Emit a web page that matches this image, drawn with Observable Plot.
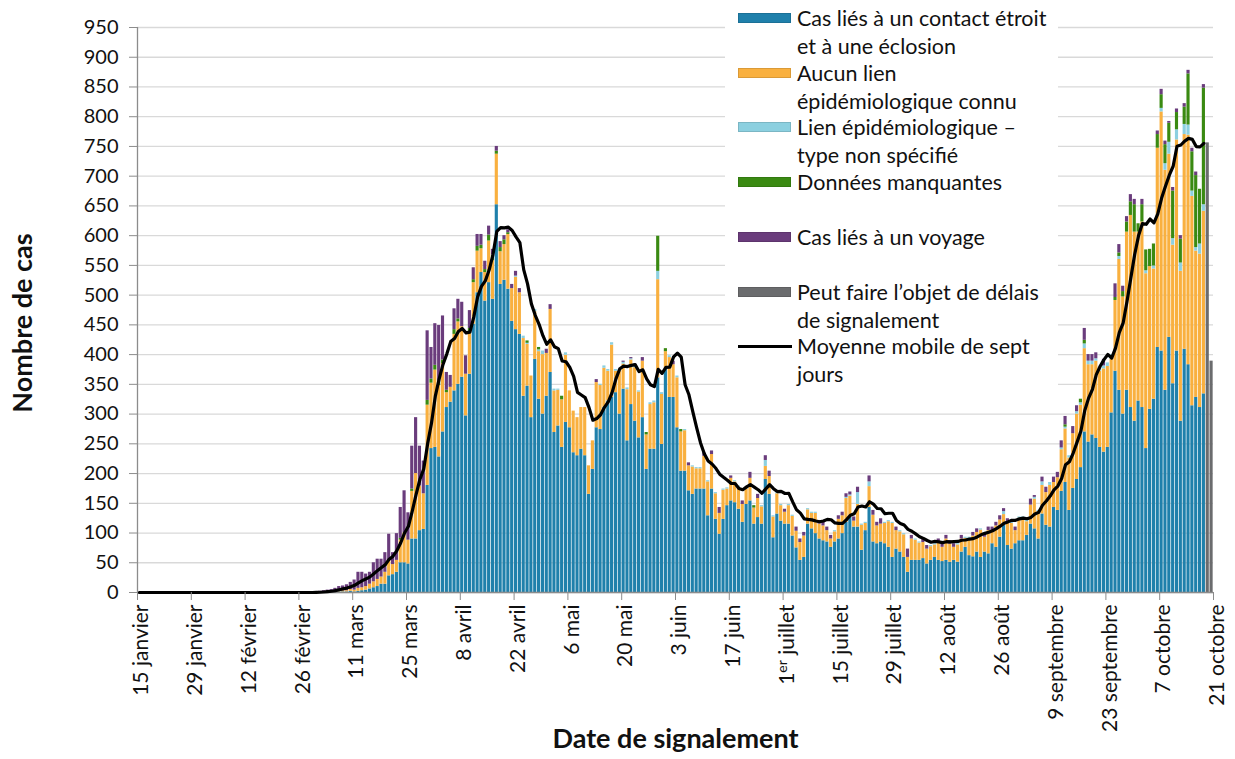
<!DOCTYPE html>
<html><head><meta charset="utf-8">
<script src="https://cdn.jsdelivr.net/npm/d3@7"></script>
<script src="https://cdn.jsdelivr.net/npm/@observablehq/plot@0.6"></script>
<style>
body{margin:0;background:#fff;}
#wrap{position:relative;width:1235px;height:759px;overflow:hidden;font-family:Lato,"Open Sans",sans-serif;}
#chart{position:absolute;left:0;top:0;}
#legend{position:absolute;left:725px;top:0;width:333px;height:392px;background:#fff;}
.lg-sw{position:absolute;left:13px;width:53px;height:10px;box-sizing:border-box;border:1px solid rgba(0,0,0,0.12);}
.lg-ln{position:absolute;left:13px;width:54px;height:3px;background:#000;}
.lg-tx{position:absolute;left:72px;font-size:21.5px;line-height:28px;color:#111;white-space:nowrap;}
</style></head>
<body><div id="wrap"><div id="chart"></div><div id="legend"></div></div>
<script>
// ---- data: daily counts from 15 January 2020 (index 0) to 20 October 2020 ----
const startDate = "2020-01-15";
const categories = [
  "Cas liés à un contact étroit et à une éclosion",
  "Aucun lien épidémiologique connu",
  "Lien épidémiologique – type non spécifié",
  "Données manquantes",
  "Cas liés à un voyage",
  "Peut faire l’objet de délais de signalement"
];
const legendLines = [
  ["Cas liés à un contact étroit", "et à une éclosion"],
  ["Aucun lien", "épidémiologique connu"],
  ["Lien épidémiologique –", "type non spécifié"],
  ["Données manquantes"],
  ["Cas liés à un voyage"],
  ["Peut faire l’objet de délais", "de signalement"],
  ["Moyenne mobile de sept", "jours"]
];
const colors = ["#1f80ab", "#f9b03f", "#8cd0e0", "#3a8a12", "#6a3c7c", "#6b6c6e"];

const contact = [
  0,0,0,0,0,0,0,0,0,0, 0,0,0,0,0,0,0,0,0,0, 0,0,0,0,0,0,0,0,0,0, 0,0,0,0,0,0,0,0,0,0,
  0,0,0,0,0,0,0,0,0,0, 0,1,1,1,1,2,1,2,3,4, 6,8,10,14,14,28,30,34,50,50,
  48,90,90,104,106,180,242,244,228,270, 311,320,339,350,362,297,367,451,504,538,
  490,521,493,652,518,525,510,456,442,434, 330,347,294,392,325,300,330,370,269,280,
  244,286,277,235,230,241,230,165,207,277, 274,311,322,328,336,300,342,255,316,288,
  260,294,207,241,241,361,249,375,328,328, 277,204,204,171,165,174,174,174,129,174,
  123,98,123,146,154,151,140,118,148,154, 115,126,115,190,165,92,132,120,115,115,
  95,75,54,59,115,107,99,90,87,85, 76,85,90,99,118,127,110,110,71,104,
  143,85,82,85,82,76,59,73,68,59, 34,54,54,54,57,48,54,59,54,52,
  54,51,54,51,68,76,62,60,68,59, 68,65,82,76,93,115,79,73,82,87,
  87,96,115,107,90,132,113,110,143,138, 170,185,138,175,190,210,270,253,265,259,
  244,236,244,302,372,340,300,340,311,288, 322,311,242,308,325,412,406,340,429,351,
  406,288,409,383,314,328,311,334,0,0
];
const noLink = [
  0,0,0,0,0,0,0,0,0,0, 0,0,0,0,0,0,0,0,0,0, 0,0,0,0,0,0,0,0,0,0, 0,0,0,0,0,0,0,0,0,0,
  0,0,0,0,0,0,0,0,1,1, 1,1,2,2,2,3,3,5,5,6, 8,10,12,12,20,25,17,20,38,50,
  40,80,110,75,60,135,110,130,120,115, 25,25,95,105,85,70,69,70,70,40,
  48,70,65,85,55,60,92,55,88,70, 97,70,70,80,80,100,72,106,70,60,
  80,113,62,70,64,70,81,48,48,76, 74,66,50,88,36,72,42,86,75,90,
  77,95,58,75,78,165,84,30,67,55, 84,66,68,42,46,34,34,55,57,58,
  43,35,49,28,38,35,37,30,26,38, 27,32,29,22,30,35,34,26,20,31,
  33,28,30,36,24,26,34,25,25,19, 14,17,33,30,40,35,10,38,42,12,
  35,45,30,30,34,43,57,31,34,38, 25,36,34,29,27,25,23,21,30,24,
  36,30,22,29,22,15,29,35,33,46, 25,39,22,36,29,16,39,43,22,38,
  38,23,32,50,46,48,55,70,42,55, 70,90,88,92,110,105,140,130,118,130,
  128,140,136,90,119,220,197,266,323,318, 284,312,294,240,219,335,402,370,308,233,
  355,252,361,386,352,246,258,307,0,0
];
const unspecified = [
  0,0,0,0,0,0,0,0,0,0, 0,0,0,0,0,0,0,0,0,0, 0,0,0,0,0,0,0,0,0,0, 0,0,0,0,0,0,0,0,0,0,
  0,0,0,0,0,0,0,0,0,0, 0,0,0,0,0,0,0,0,0,0, 0,0,0,0,0,0,0,0,0,0,
  0,0,0,0,0,0,0,0,0,0, 0,0,0,0,0,0,0,0,0,0,
  0,0,0,0,0,0,0,0,2,0, 4,2,0,4,3,6,0,0,3,2,
  0,4,0,0,0,0,0,0,0,0, 2,4,3,4,3,3,3,3,2,3,
  2,0,0,3,3,14,3,0,3,0, 3,0,2,0,2,2,2,0,2,0,
  2,0,2,2,0,2,2,0,2,0, 0,0,2,10,0,2,2,2,0,2,
  2,0,0,0,2,2,2,0,0,0, 0,2,0,0,2,2,0,20,2,2,
  8,0,0,0,2,2,2,0,2,2, 0,0,2,2,0,0,2,2,0,0,
  0,0,0,2,0,2,2,0,0,2, 0,0,0,0,0,5,0,2,0,2,
  2,2,0,3,2,6,0,5,0,0, 3,3,4,0,4,4,8,6,6,4,
  5,5,6,8,0,5,0,0,0,0, 0,0,5,0,5,0,6,11,20,11,
  17,14,17,17,9,6,17,11,0,0
];
const missing = [
  0,0,0,0,0,0,0,0,0,0, 0,0,0,0,0,0,0,0,0,0, 0,0,0,0,0,0,0,0,0,0, 0,0,0,0,0,0,0,0,0,0,
  0,0,0,0,0,0,0,0,0,0, 0,0,0,0,0,0,0,0,0,0, 0,0,0,0,0,0,0,0,3,0,
  0,4,0,0,0,8,7,8,7,6, 4,0,8,5,0,0,8,5,8,6,
  5,10,9,5,7,8,3,0,0,0, 0,4,0,0,4,0,0,0,0,0,
  6,0,0,0,0,0,0,0,0,0, 0,0,0,0,0,0,0,0,0,0,
  0,0,4,0,0,59,0,5,0,0, 0,4,0,0,0,0,0,0,0,0,
  0,0,0,0,0,0,0,0,0,0, 4,0,0,0,0,0,0,0,0,0,
  0,0,0,0,0,0,0,0,0,0, 0,0,0,0,0,0,0,0,0,0,
  0,0,0,0,0,0,0,0,0,0, 0,0,0,0,0,0,0,0,0,0,
  0,0,0,0,0,0,0,0,0,0, 0,0,0,0,0,0,0,0,0,0,
  0,0,0,0,0,0,0,0,0,0, 0,4,0,0,0,6,6,0,0,0,
  0,0,0,0,5,6,9,17,23,46, 14,29,35,29,37,23,23,32,32,80,
  29,40,29,86,66,121,92,196,0,0
];
const travel = [
  0,0,0,0,0,0,0,0,0,0, 0,0,0,0,0,0,0,0,0,0, 0,0,0,0,0,0,0,0,0,0, 0,0,0,0,0,0,0,0,0,0,
  0,0,0,0,0,0,1,2,2,3, 4,5,7,8,10,12,17,27,26,21, 20,32,34,30,33,45,20,45,52,71,
  46,72,94,67,55,117,53,70,94,74, 30,20,35,33,41,31,30,20,20,18,
  14,15,10,8,10,7,5,7,8,7, 0,0,0,0,0,0,7,8,0,0,
  0,0,0,0,0,0,0,0,0,5, 0,0,0,0,0,0,2,0,2,3,
  0,6,0,0,0,0,0,0,0,6, 0,0,0,5,0,0,0,6,0,6,
  0,10,0,0,4,0,0,6,0,10, 0,7,0,8,9,0,0,0,5,0,
  0,7,6,6,0,0,0,6,6,6, 6,0,6,6,6,5,7,9,0,0,
  10,8,6,9,0,0,0,6,0,0, 14,6,0,0,6,6,0,0,6,6,
  6,6,6,0,6,0,0,6,6,0, 6,6,6,6,7,5,6,0,6,0,
  0,0,10,3,0,8,9,0,9,9, 12,14,0,12,10,0,20,11,11,10,
  0,11,0,0,23,14,9,9,12,9, 0,9,0,0,0,6,9,6,3,6,
  6,6,6,6,6,6,0,6,0,0
];
const delayed = [
  0,0,0,0,0,0,0,0,0,0, 0,0,0,0,0,0,0,0,0,0, 0,0,0,0,0,0,0,0,0,0, 0,0,0,0,0,0,0,0,0,0,
  0,0,0,0,0,0,0,0,0,0, 0,0,0,0,0,0,0,0,0,0, 0,0,0,0,0,0,0,0,0,0,
  0,0,0,0,0,0,0,0,0,0, 0,0,0,0,0,0,0,0,0,0,
  0,0,0,0,0,0,0,0,0,0, 0,0,0,0,0,0,0,0,0,0,
  0,0,0,0,0,0,0,0,0,0, 0,0,0,0,0,0,0,0,0,0,
  0,0,0,0,0,0,0,0,0,0, 0,0,0,0,0,0,0,0,0,0,
  0,0,0,0,0,0,0,0,0,0, 0,0,0,0,0,0,0,0,0,0,
  0,0,0,0,0,0,0,0,0,0, 0,0,0,0,0,0,0,0,0,0,
  0,0,0,0,0,0,0,0,0,0, 0,0,0,0,0,0,0,0,0,0,
  0,0,0,0,0,0,0,0,0,0, 0,0,0,0,0,0,0,0,0,0,
  0,0,0,0,0,0,0,0,0,0, 0,0,0,0,0,0,0,0,0,0,
  0,0,0,0,0,0,0,0,0,0, 0,0,0,0,0,0,0,0,0,0,
  0,0,0,0,0,0,0,0,756,389
];
const tickDates = ["2020-01-15","2020-01-29","2020-02-12","2020-02-26","2020-03-11","2020-03-25",
  "2020-04-08","2020-04-22","2020-05-06","2020-05-20","2020-06-03","2020-06-17","2020-07-01",
  "2020-07-15","2020-07-29","2020-08-12","2020-08-26","2020-09-09","2020-09-23","2020-10-07","2020-10-21"];
const tickLabels = ["15 janvier","29 janvier","12 février","26 février","11 mars","25 mars",
  "8 avril","22 avril","6 mai","20 mai","3 juin","17 juin","1er juillet",
  "15 juillet","29 juillet","12 août","26 août","9 septembre","23 septembre","7 octobre","21 octobre"];
const yTicks = [0,50,100,150,200,250,300,350,400,450,500,550,600,650,700,750,800,850,900,950];

// ---- build tables ----
const DAY = 864e5;
const t0 = new Date(startDate).getTime();
const seriesList = [contact, noLink, unspecified, missing, travel, delayed];
const rows = [];
const avgRows = [];
for (let i = 0; i < contact.length; i++) {
  const date = new Date(t0 + i * DAY);
  seriesList.forEach((vals, k) => {
    if (vals[i] > 0) rows.push({date, category: categories[k], value: vals[i]});
  });
  if (delayed[i] === 0) {
    avgRows.push({date: new Date(t0 + i * DAY + DAY / 2),
      total: contact[i] + noLink[i] + unspecified[i] + missing[i] + travel[i]});
  }
}
const ticks = tickDates.map(s => new Date(s));
const labelMap = new Map(ticks.map((d, i) => [+d, tickLabels[i]]));

const chart = Plot.plot({
  width: 1235, height: 759,
  marginLeft: 137, marginRight: 22, marginTop: 27, marginBottom: 167,
  style: {fontFamily: "Lato, 'Open Sans', sans-serif", fontSize: "19px", color: "#111", background: "transparent"},
  x: {type: "utc", domain: [ticks[0], ticks[ticks.length - 1]], label: null},
  y: {domain: [0, 950], label: null},
  color: {domain: categories, range: colors},
  marks: [
    Plot.gridY(yTicks, {stroke: "#d9d9d9", strokeOpacity: 1, strokeWidth: 1.3}),
    Plot.rectY(rows, {x: "date", interval: "day", y: "value", fill: "category", insetLeft: 0.35, insetRight: 0.35}),
    Plot.ruleY([0], {stroke: "#8c8c8c", strokeWidth: 1.3}),
    Plot.ruleX([ticks[0]], {stroke: "#8c8c8c", strokeWidth: 1.3}),
    Plot.lineY(avgRows, Plot.windowY({k: 7, anchor: "end"}, {x: "date", y: "total", stroke: "#000", strokeWidth: 3.2, strokeLinejoin: "round"})),
    Plot.axisY(yTicks, {tickSize: 8, tickPadding: 11, fontSize: 20, stroke: "#8c8c8c", label: null}),
    Plot.axisX(ticks, {tickFormat: d => labelMap.get(+d), tickRotate: -90, tickSize: 8, tickPadding: 4, fontSize: 21, stroke: "#8c8c8c", label: null}),
    Plot.text(["Nombre de cas"], {frameAnchor: "left", textAnchor: "middle", dx: -114, dy: 13, rotate: -90, fontWeight: "bold", fontSize: 27}),
    Plot.text(["Date de signalement"], {frameAnchor: "bottom", textAnchor: "middle", dy: 155, fontWeight: "bold", fontSize: 27})
  ]
});
document.getElementById("chart").appendChild(chart);

// nudge the x tick labels slightly right of their ticks, as in the original
const xLabels = chart.querySelector('g[aria-label="x-axis tick label"]');
if (xLabels) {
  const prev = xLabels.getAttribute("transform") || "";
  xLabels.setAttribute("transform", (prev + " translate(4,0)").trim());
}

// superscript for "1er juillet"
chart.querySelectorAll("text").forEach(t => {
  if (t.textContent === "1er juillet") {
    t.textContent = "";
    const ns = "http://www.w3.org/2000/svg";
    const a = document.createElementNS(ns, "tspan"); a.textContent = "1";
    const b = document.createElementNS(ns, "tspan"); b.textContent = "er"; b.setAttribute("dy", "-7"); b.setAttribute("font-size", "14");
    const c = document.createElementNS(ns, "tspan"); c.textContent = " juillet"; c.setAttribute("dy", "7");
    t.append(a, b, c);
  }
});

// legend (overlay, top right)
const legend = document.getElementById("legend");
const legendColors = [colors[0], colors[1], colors[2], colors[3], colors[4], colors[5], null];
legendLines.forEach((lines, i) => {
  const cy = 18 + i * 54.7;
  if (legendColors[i]) {
    const sw = document.createElement("div");
    sw.className = "lg-sw"; sw.style.top = (cy - 5) + "px"; sw.style.background = legendColors[i];
    legend.appendChild(sw);
  } else {
    const ln = document.createElement("div");
    ln.className = "lg-ln"; ln.style.top = (cy - 1.5) + "px";
    legend.appendChild(ln);
  }
  const tx = document.createElement("div");
  tx.className = "lg-tx"; tx.style.top = (cy - 14) + "px";
  tx.innerHTML = lines.join("<br>");
  legend.appendChild(tx);
});
</script>
</body></html>
